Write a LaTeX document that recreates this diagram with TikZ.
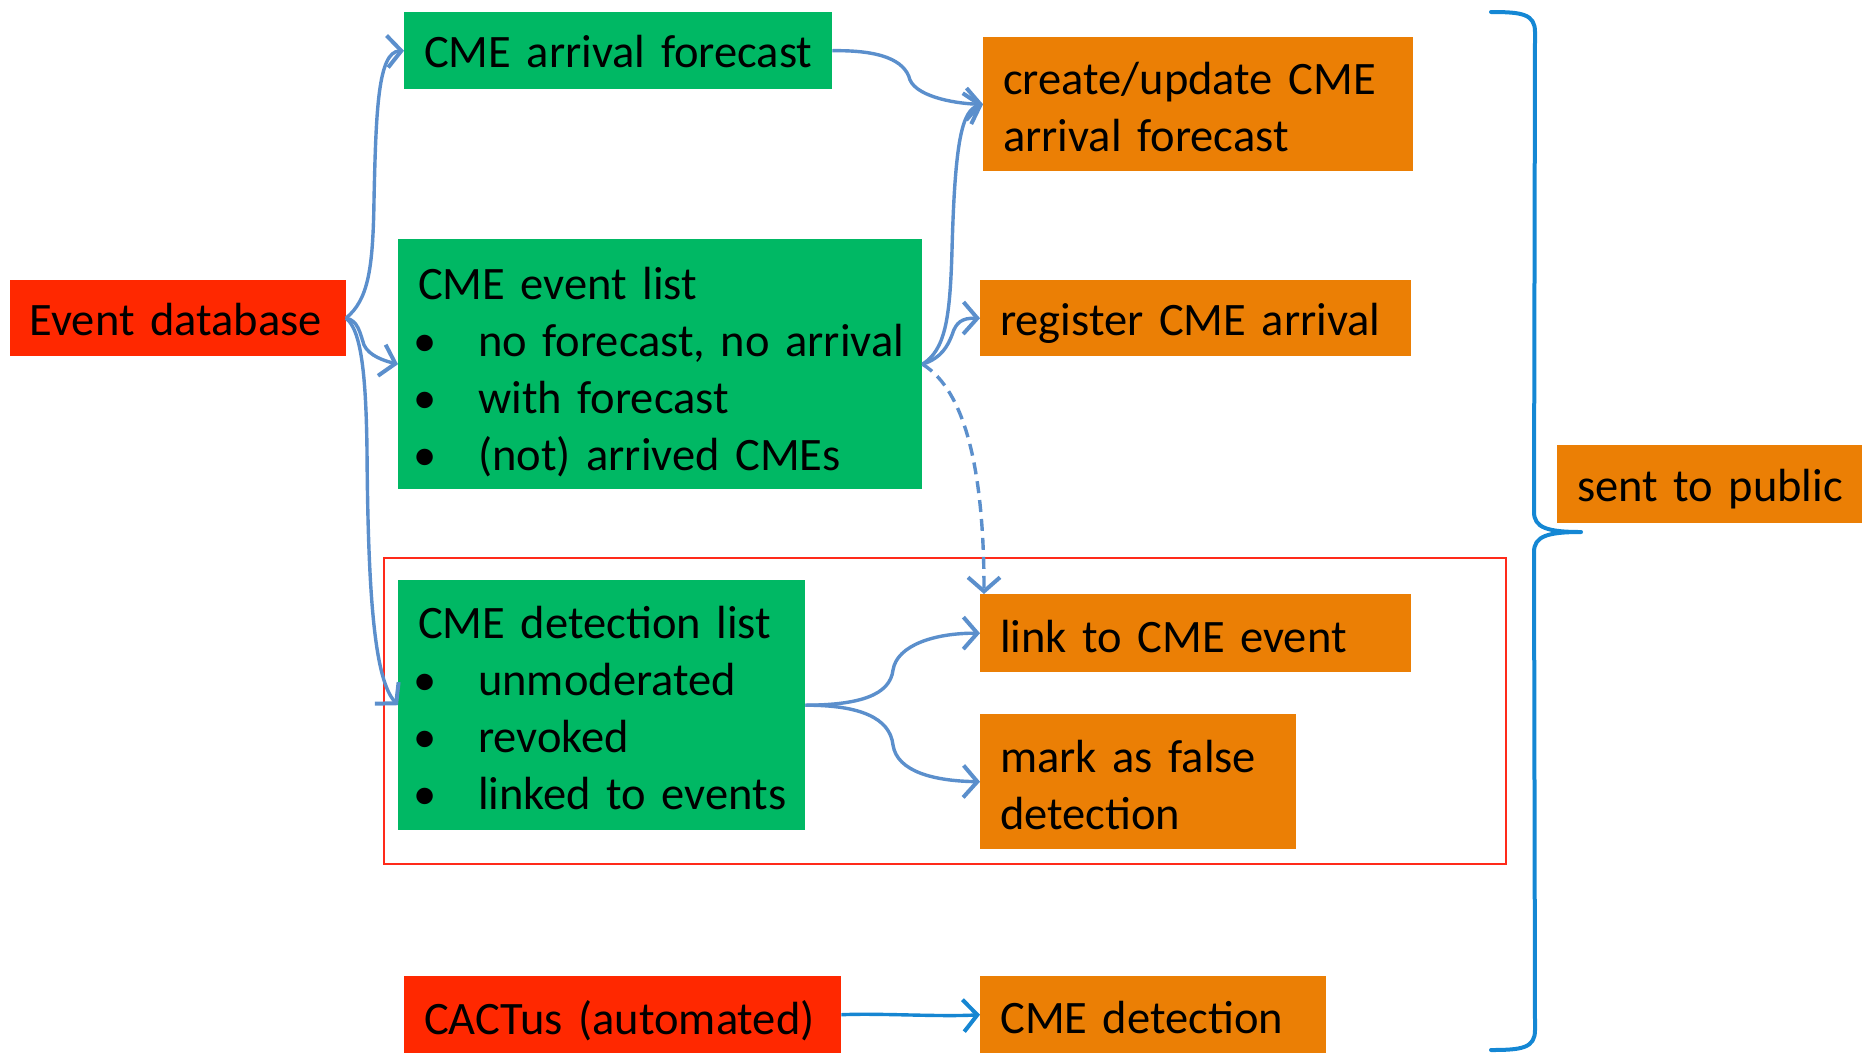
\documentclass[tikz,border=0pt]{standalone}
\usepackage{fontspec}
\setmainfont{Carlito}
\usetikzlibrary{arrows.meta}

\definecolor{listgreen}{HTML}{00B864}
\definecolor{srcred}{HTML}{FF2800}
\definecolor{actorange}{HTML}{EB7F05}
\definecolor{flowblue}{HTML}{5B8FCC}
\definecolor{autoblue}{HTML}{1686D2}
\definecolor{bracecol}{HTML}{1487D4}
\definecolor{framered}{HTML}{FF2A1A}

% first line with extra head room (lowers the text block by half of it),
% a plain unbreakable line, and a bulleted line
\newcommand{\firstline}[2][6pt]{\raisebox{0pt}[\dimexpr\height+#1\relax]{#2}}
\newcommand{\oneline}[1]{\mbox{#1}}
\newcommand{\itm}[1]{\\\mbox{\hspace*{-5pt}\makebox[65pt][l]{•}#1}}

\begin{document}
\begin{tikzpicture}[x=1pt,y=-1pt,
  blk/.style={anchor=north west, inner xsep=20pt, inner ysep=0pt, align=left,
    font=\fontsize{46.5}{57}\selectfont, text=black},
  src/.style={blk, fill=srcred},
  lst/.style={blk, fill=listgreen},
  act/.style={blk, fill=actorange},
  flow/.style={draw=flowblue, line width=3.4pt,
    -{Straight Barb[length=14pt,width=32pt,line width=4pt]}},
  dashflow/.style={flow, dash pattern=on 12pt off 7pt},
  autoflow/.style={flow, draw=autoblue},
  group/.style={draw=framered, line width=2pt, anchor=north west, inner sep=0pt},
  bracestyle/.style={draw=bracecol, line width=4pt, line cap=round, line join=round}
]
\useasboundingbox (0,0) rectangle (1867,1053);

% moderation group frame
\node[group, minimum width=1122pt, minimum height=306pt] (grp) at (383,557) {};

% sources
\node[src, text width=296pt, minimum height=76pt] (edb) at (9.5,280) {\firstline[2pt]{Event database}};
\node[src, text width=397pt, minimum height=77pt] (cac) at (404,976) {\firstline[12pt]{CACTus (automated)}};

% lists
\node[lst, text width=388pt, minimum height=77pt] (afc) at (404,12) {\firstline[2pt]{CME arrival forecast}};
\node[lst, text width=484pt, minimum height=250pt] (evl) at (398,239)
  {\firstline[16pt]{CME event list}\itm{no forecast, no arrival}\itm{with forecast}\itm{(not) arrived CMEs}};
\node[lst, text width=367pt, minimum height=250pt] (dtl) at (398,580)
  {\firstline{CME detection list}\itm{unmoderated}\itm{revoked}\itm{linked to events}};

% actions
\node[act, text width=390pt, minimum height=134pt] (cuf) at (983,37) {\firstline{create/update CME}\\\oneline{arrival forecast}};
\node[act, text width=391pt, minimum height=76pt] (reg) at (980,280) {\firstline[10pt]{register CME arrival}};
\node[act, text width=391pt, minimum height=78pt] (lnk) at (980,594) {\firstline{link to CME event}};
\node[act, text width=276pt, minimum height=135pt] (mrk) at (980,714) {\firstline{mark as false}\\\oneline{detection}};
\node[act, text width=306pt, minimum height=77pt] (cdt) at (980,976) {\firstline{CME detection}};
\node[act, text width=265pt, minimum height=78pt] (stp) at (1557,445) {\firstline[10pt]{sent to public}};

% connectors from the event database
\draw[flow] (edb.east) .. controls (368,300) and (373,270) .. (374,200)
  .. controls (376,110) and (378,52) .. (afc.west);
\draw[flow] (edb.east) .. controls (358,320) and (360,333) .. (364,345)
  .. controls (369,356) and (385,361) .. (evl.west);
\draw[flow] (edb.east) .. controls (362,330) and (366,380) .. (367,450)
  .. controls (368,600) and (375,680) .. (dtl.west);

% connectors to the actions
\draw[flow] (afc.east) .. controls (880,50) and (905,60) .. (910,80)
  .. controls (918,98) and (960,104) .. (cuf.west);
\draw[flow] (evl.east) .. controls (945,350) and (950,320) .. (952,250)
  .. controls (955,140) and (962,110) .. (cuf.west);
\draw[flow] (evl.east) .. controls (942,358) and (948,345) .. (952,335)
  .. controls (956,322) and (962,318) .. (reg.west);
\draw[dashflow] (evl.east) .. controls (965,390) and (984,470) .. ([xshift=4pt]lnk.north west);
\draw[flow] (dtl.east) .. controls (860,705) and (890,695) .. (893,670)
  .. controls (897,645) and (935,633) .. (lnk.west);
\draw[flow] (dtl.east) .. controls (860,705) and (890,718) .. (893,745)
  .. controls (897,772) and (935,781) .. (mrk.west);
\draw[autoflow] (cac.east) .. controls (880,1013) and (940,1017) .. (cdt.west);

% brace gathering everything that is published
\coordinate (bracetip) at (1581,532);
\draw[bracestyle] (1491,12) .. controls (1522,12) and (1535,14) .. (1535,32)
  -- (1534,512) .. controls (1534,528) and (1548,532) .. (bracetip)
  .. controls (1548,532) and (1534,536) .. (1534,552)
  -- (1535,1030) .. controls (1535,1048) and (1522,1050) .. (1491,1050);
\end{tikzpicture}
\end{document}
